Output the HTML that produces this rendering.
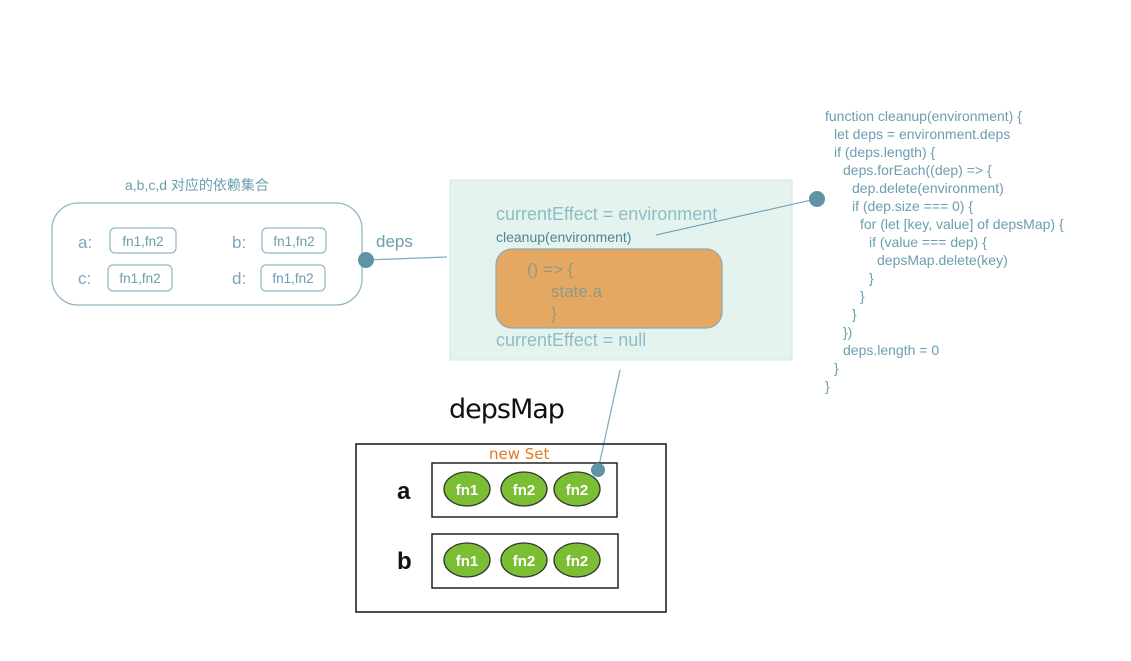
<!DOCTYPE html>
<html><head><meta charset="utf-8"><style>
html,body{margin:0;padding:0;background:#fff;}
svg{display:block}
</style></head><body>
<svg width="1131" height="661" viewBox="0 0 1131 661" xmlns="http://www.w3.org/2000/svg" font-family="Liberation Sans, Noto Sans CJK SC, sans-serif">
<!-- left group -->
<text x="125" y="190" font-size="14" fill="#6aa0b0">a,b,c,d 对应的依赖集合</text>
<rect x="52" y="203" width="310" height="102" rx="26" fill="none" stroke="#8fb9c6" stroke-width="1.3"/>
<g font-size="17" fill="#7aa8b8">
<text x="78" y="248">a:</text><text x="232" y="248">b:</text>
<text x="78" y="284">c:</text><text x="232" y="284">d:</text>
</g>
<g fill="none" stroke="#8fb9c6" stroke-width="1.2">
<rect x="110" y="228" width="66" height="25" rx="5"/>
<rect x="262" y="228" width="64" height="25" rx="5"/>
<rect x="108" y="265" width="64" height="26" rx="5"/>
<rect x="261" y="265" width="64" height="26" rx="5"/>
</g>
<g font-size="13.5" fill="#6a9eb0">
<text x="143" y="246" text-anchor="middle">fn1,fn2</text>
<text x="294" y="246" text-anchor="middle">fn1,fn2</text>
<text x="140" y="283" text-anchor="middle">fn1,fn2</text>
<text x="293" y="283" text-anchor="middle">fn1,fn2</text>
</g>
<line x1="366" y1="260" x2="447" y2="257" stroke="#7fb0c0" stroke-width="1.3"/>
<circle cx="366" cy="260" r="8" fill="#5f93a6"/>
<text x="376" y="247" font-size="17" fill="#6a9eb0">deps</text>
<!-- green box -->
<rect x="450" y="180" width="342" height="180" fill="#e4f3ee" stroke="#d2e8e0"/>
<text x="496" y="220" font-size="18" fill="#8fbcc6">currentEffect = environment</text>
<text x="496" y="242" font-size="14" fill="#4f8496">cleanup(environment)</text>
<rect x="496" y="249" width="226" height="79" rx="16" fill="#e5a862" stroke="#8aaab0" stroke-width="1.2"/>
<g font-size="17" fill="#8f9a80">
<text x="527" y="275">() =&gt; {</text>
<text x="551" y="297">state.a</text>
<text x="551" y="319">}</text>
</g>
<text x="496" y="346" font-size="18" fill="#8fbcc6">currentEffect = null</text>
<line x1="656" y1="235" x2="816" y2="199" stroke="#6a9eb0" stroke-width="1.1"/>
<circle cx="817" cy="199" r="8" fill="#5f93a6"/>
<!-- code -->
<g font-size="14" fill="#6a9eb0">
<text x="825" y="121">function cleanup(environment) {</text>
<text x="834" y="139">let deps = environment.deps</text>
<text x="834" y="157">if (deps.length) {</text>
<text x="843" y="175">deps.forEach((dep) =&gt; {</text>
<text x="852" y="193">dep.delete(environment)</text>
<text x="852" y="211">if (dep.size === 0) {</text>
<text x="860" y="229">for (let [key, value] of depsMap) {</text>
<text x="869" y="247">if (value === dep) {</text>
<text x="877" y="265">depsMap.delete(key)</text>
<text x="869" y="283">}</text>
<text x="860" y="301">}</text>
<text x="852" y="319">}</text>
<text x="843" y="337">})</text>
<text x="843" y="355">deps.length = 0</text>
<text x="834" y="373">}</text>
<text x="825" y="391">}</text>
</g>
<!-- depsMap -->
<line x1="620" y1="370" x2="598" y2="470" stroke="#7fb0c0" stroke-width="1.3"/>
<text x="449" y="418" font-size="27" fill="#111" font-family="DejaVu Sans, sans-serif" letter-spacing="-1">depsMap</text>
<rect x="356" y="444" width="310" height="168" fill="none" stroke="#222" stroke-width="1.6"/>
<text x="489" y="459" font-size="15" fill="#e07a1f" font-family="DejaVu Sans, sans-serif">new Set</text>
<rect x="432" y="463" width="185" height="54" fill="none" stroke="#222" stroke-width="1.5"/>
<rect x="432" y="534" width="186" height="54" fill="none" stroke="#222" stroke-width="1.5"/>
<text x="397" y="499" font-size="24" font-weight="bold" fill="#111">a</text>
<text x="397" y="569" font-size="24" font-weight="bold" fill="#111">b</text>
<g fill="#7bbd33" stroke="#333" stroke-width="1.3">
<ellipse cx="467" cy="489" rx="23" ry="17"/><ellipse cx="524" cy="489" rx="23" ry="17"/><ellipse cx="577" cy="489" rx="23" ry="17"/>
<ellipse cx="467" cy="560" rx="23" ry="17"/><ellipse cx="524" cy="560" rx="23" ry="17"/><ellipse cx="577" cy="560" rx="23" ry="17"/>
</g>
<g font-size="15" font-weight="bold" fill="#fff" text-anchor="middle">
<text x="467" y="495">fn1</text><text x="524" y="495">fn2</text><text x="577" y="495">fn2</text>
<text x="467" y="566">fn1</text><text x="524" y="566">fn2</text><text x="577" y="566">fn2</text>
</g>
<circle cx="598" cy="470" r="7" fill="#5f93a6"/>
</svg>
</body></html>
